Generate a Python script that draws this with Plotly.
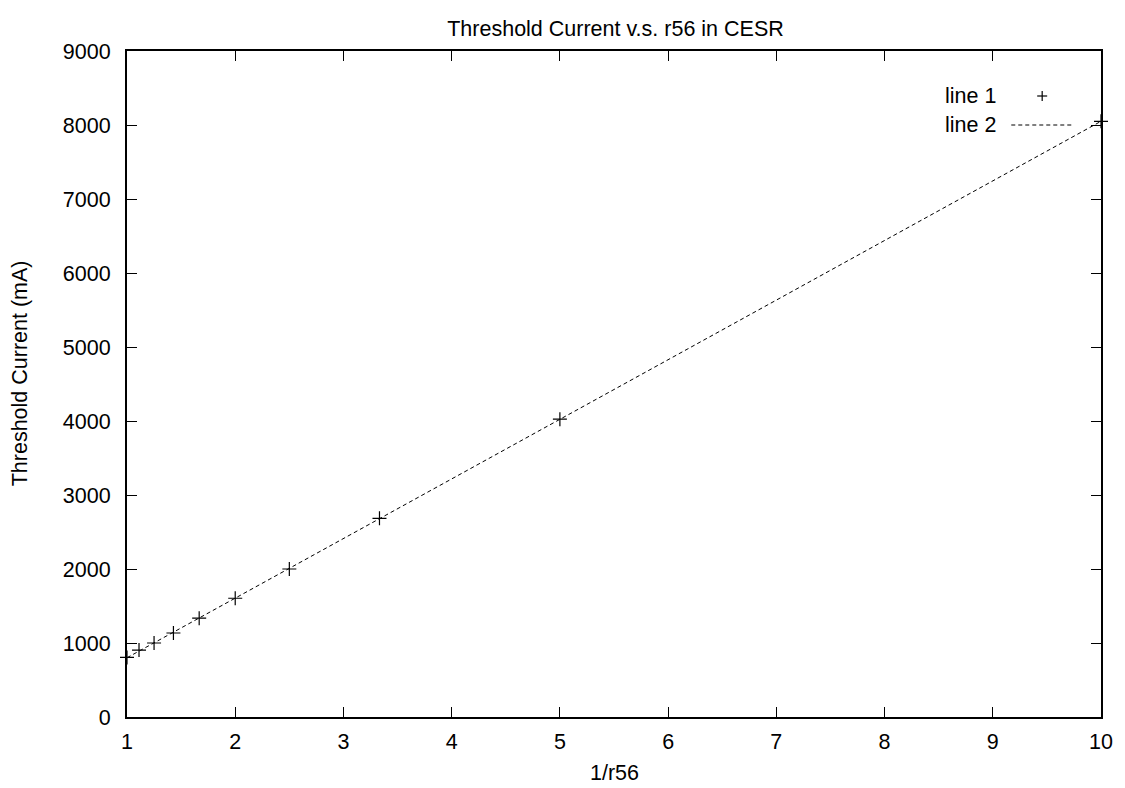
import numpy as np
import plotly.graph_objects as go

# Measured threshold current against inverse momentum compaction
inv_r56 = [1.0, 1.111, 1.25, 1.429, 1.667, 2.0, 2.5, 3.333, 5.0, 10.0]
threshold_ma = [805, 905, 1000, 1135, 1335, 1605, 2000, 2685, 4025, 8050]

# Straight-line fit through the measurements
slope, intercept = np.polyfit(inv_r56, threshold_ma, 1)
fit_x = np.linspace(1, 10, 50)
fit_y = slope * fit_x + intercept

FONT = "Liberation Sans, Arial, Helvetica, sans-serif"
FS = 21.5
TXT = dict(family=FONT, size=FS, color="black")

# plot-area geometry in pixels, used to place the free-standing labels
L, R, T, B = 127, 1104, 51, 717
W, H = R - L, B - T


def px(x):
    return (x - L) / W


def py(y):
    return (B - y) / H


fig = go.Figure()
fig.add_trace(go.Scatter(
    x=inv_r56, y=threshold_ma, mode="markers", name="line 1",
    marker=dict(symbol="cross-thin", size=10, line=dict(color="black", width=1.2)),
    cliponaxis=False, showlegend=False,
))
fig.add_trace(go.Scatter(
    x=fit_x, y=fit_y, mode="lines", name="line 2",
    line=dict(color="black", width=1, dash="4px,3px"),
    showlegend=False,
))

axis_common = dict(
    showgrid=False, zeroline=False, showline=True, linecolor="black", linewidth=2,
    mirror="ticks", ticks="inside", ticklen=10, tickwidth=1, tickcolor="black",
    tickfont=TXT,
)

fig.update_layout(
    width=1125, height=788,
    paper_bgcolor="white", plot_bgcolor="white",
    margin=dict(l=L, r=1125 - R, t=T, b=788 - B),
    title=dict(text="Threshold Current v.s. r56 in CESR", x=(L + R) / 2 / 1125, xanchor="center",
               y=1 - 28 / 788, yanchor="middle", font=TXT),
    xaxis=dict(range=[1, 10], dtick=1, tick0=1, ticklabelstandoff=4, **axis_common),
    yaxis=dict(range=[0, 9000], dtick=1000, tick0=0, ticklabelstandoff=10, **axis_common),
    font=TXT,
)

# Axis titles
fig.add_annotation(text="1/r56", xref="paper", yref="paper", x=px(616), y=py(773),
                   xanchor="center", yanchor="middle", showarrow=False, font=TXT)
fig.add_annotation(text="Threshold Current (mA)", xref="paper", yref="paper", x=px(20), y=py(373),
                   xanchor="center", yanchor="middle", textangle=-90, showarrow=False, font=TXT)

# Key in the upper right corner: label on the left, sample on the right
fig.add_annotation(text="line 1", xref="paper", yref="paper", x=px(1001), y=py(96),
                   xanchor="right", yanchor="middle", showarrow=False, font=TXT)
fig.add_annotation(text="line 2", xref="paper", yref="paper", x=px(1001), y=py(125),
                   xanchor="right", yanchor="middle", showarrow=False, font=TXT)
fig.add_shape(type="line", xref="paper", yref="paper",
              x0=px(1040), x1=px(1050), y0=py(96), y1=py(96),
              line=dict(color="black", width=1.2))
fig.add_shape(type="line", xref="paper", yref="paper",
              x0=px(1045), x1=px(1045), y0=py(101), y1=py(91),
              line=dict(color="black", width=1.2))
fig.add_shape(type="line", xref="paper", yref="paper",
              x0=px(1014), x1=px(1077), y0=py(125), y1=py(125),
              line=dict(color="black", width=1, dash="4px,3px"))

fig.write_html("out.html")
